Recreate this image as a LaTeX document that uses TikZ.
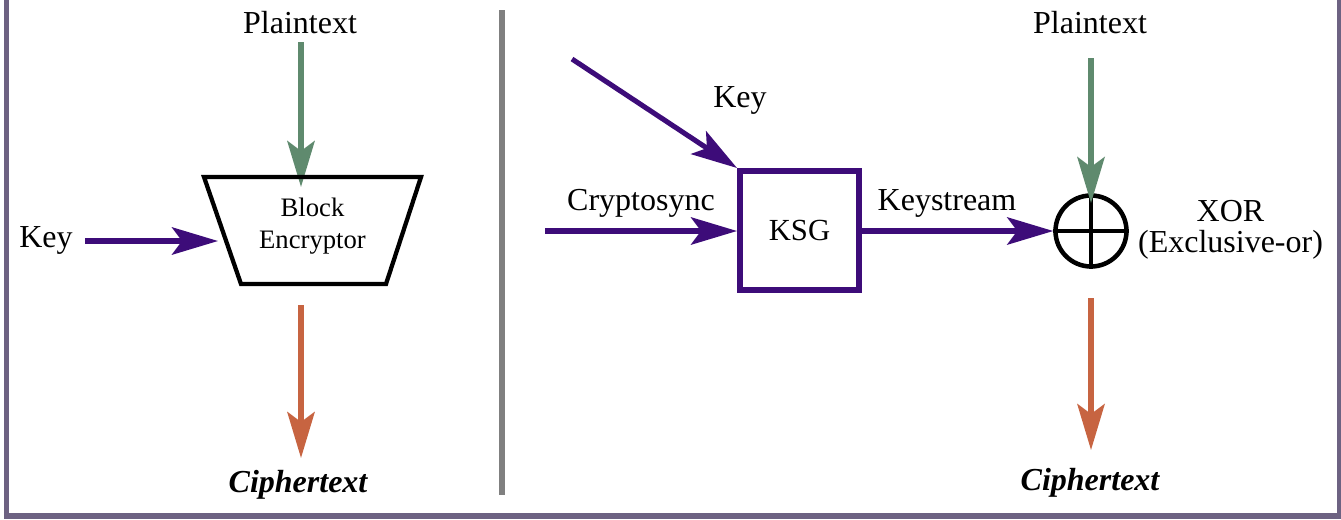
\documentclass[tikz,border=0pt]{standalone}
\usepackage{fontspec}
\setmainfont{Liberation Serif}
\usetikzlibrary{arrows.meta}
\definecolor{kpurple}{HTML}{3D0C79}
\definecolor{pgreen}{HTML}{5F8A6E}
\definecolor{corange}{HTML}{C76441}
\definecolor{framec}{HTML}{6D6282}
\definecolor{sepc}{HTML}{808080}
\tikzset{
  flow/.style={line width=3.8pt, -{Stealth[length=34.5pt,width=20.5pt,inset=7.5pt]}},
  lbl/.style={font=\fontsize{24}{23}\selectfont, inner sep=0pt, anchor=base},
  cipher/.style={lbl, font=\fontsize{24}{23}\selectfont\bfseries\itshape},
}
\begin{document}
\begin{tikzpicture}[x=0.75pt,y=-0.75pt]
\useasboundingbox (0,0) rectangle (1341,519);
% frame and separator
\draw[framec, line width=3.9pt] (6.5,-10) -- (6.5,516) -- (1340,516) -- (1340,-10);
\draw[sepc, line width=4.5pt] (502,10) -- (502,495);

% ---------- left: block cipher ----------
\node[lbl] (pt1) at (300,33) {Plaintext};
\coordinate (pt1s) at (301,42);
\coordinate (pt1e) at (301,187);
\draw[flow, pgreen] (pt1s) -- (pt1e);

\coordinate (tl) at (204,177);
\coordinate (tr) at (421,177);
\coordinate (br) at (386,284);
\coordinate (bl) at (241,284);
\draw[line width=3.2pt, line join=miter] (tl) -- (tr) -- (br) -- (bl) -- cycle;
\node[align=center, inner sep=0pt, font=\fontsize{20}{24}\selectfont] (enc) at (312.5,226.5) {Block\\Encryptor};

\node[lbl] (key1) at (46,247) {Key};
\coordinate (key1s) at (85,241);
\coordinate (key1e) at (218,241);
\draw[flow, kpurple] (key1s) -- (key1e);

\coordinate (ct1s) at (301,305);
\coordinate (ct1e) at (301,458);
\draw[flow, corange] (ct1s) -- (ct1e);
\node[cipher] (ct1) at (298,492) {Ciphertext};

% ---------- right: stream cipher ----------
\node[draw=kpurple, line width=4.5pt, minimum size=89.25pt, inner sep=0pt,
      font=\fontsize{23}{23}\selectfont] (ksg) at (799.5,230.5) {KSG};

\coordinate (key2s) at (572,59);
\draw[flow, kpurple] (key2s) -- (ksg.north west);
\node[lbl] (key2) at (740,107) {Key};

\coordinate (cs) at (545,231);
\draw[flow, kpurple] (cs) -- (ksg.west |- cs);
\node[lbl] (csl) at (641,210) {Cryptosync};

\node[draw, circle, line width=3.4pt, minimum size=53.25pt, inner sep=0pt] (xor) at (1091,231) {};
\draw[line width=3.2pt] (xor.north) -- (xor.south) (xor.west) -- (xor.east);

\draw[flow, kpurple] (ksg.east |- cs) -- (xor.west |- cs);
\node[lbl] (ksl) at (947,210) {Keystream};

\node[lbl] (pt2) at (1090,33) {Plaintext};
\coordinate (pt2s) at (1091,58);
\coordinate (pt2e) at (1091,203);
\draw[flow, pgreen] (pt2s) -- (pt2e);

\node[align=center, inner sep=0pt, font=\fontsize{24}{23.25}\selectfont] (xorl) at (1230.5,229.5) {XOR\\(Exclusive-or)};

\coordinate (ct2s) at (1091,298);
\coordinate (ct2e) at (1091,450);
\draw[flow, corange] (ct2s) -- (ct2e);
\node[cipher] (ct2) at (1090,490) {Ciphertext};
\end{tikzpicture}
\end{document}
